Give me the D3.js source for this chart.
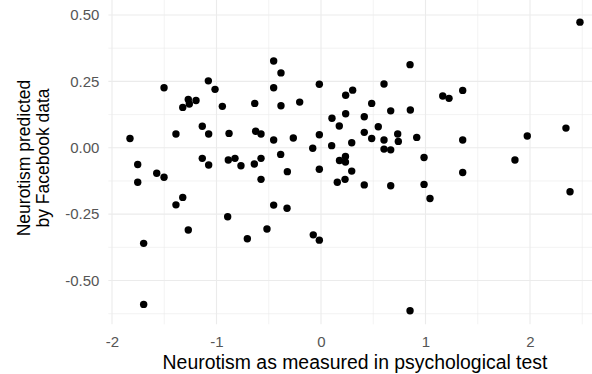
<!DOCTYPE html>
<html>
<head>
<meta charset="utf-8">
<script src="https://cdn.jsdelivr.net/npm/d3@7"></script>
<style>
body { margin:0; background:#fff; }
text { font-family: "Liberation Sans", Arial, Helvetica, sans-serif; }
</style>
</head>
<body>
<svg id="chart" width="592" height="374"></svg>
<script>
// neurotism from the psychological test (x)
var testScore = [
  -1.078, -1.014, -1.502, -1.270, -1.196, -1.260, -1.323, -0.944, -1.136, -1.075,
  -1.388, -1.828, -0.880, -1.136, -1.075, -1.754, -0.887, -1.572, -1.502, -1.754,
  -1.323, -1.388, -0.893, -1.270, -1.697, -1.697, -0.453, -0.383, -0.453, -0.016,
   0.303,  0.236, -0.634, -0.383, -0.204,  0.236,  0.105,  0.175, -0.625, -0.574,
  -0.453, -0.265, -0.016,  0.294,  0.102, -0.079, -0.386, -0.823, -0.766, -0.638,
  -0.574, -0.322, -0.016,  0.177,  0.234,  0.234,  0.294,  0.156,  0.230, -0.574,
  -0.453, -0.325, -0.517, -0.705, -0.074, -0.016,  0.852,  0.603,  1.165,  1.225,
   1.356,  0.485,  0.667,  0.855,  0.414,  0.548,  0.414,  0.485,  0.734,  0.603,
   0.740,  0.916,  0.603,  0.667,  1.356,  0.986,  0.414,  0.667,  0.986,  1.043,
   1.356,  0.852,  2.478,  2.344,  1.974,  1.856,  2.383
];
// neurotism predicted from Facebook data (y)
var fbPredicted = [
   0.252,  0.220,  0.226,  0.182,  0.178,  0.165,  0.152,  0.156,  0.081,  0.052,
   0.052,  0.035,  0.054, -0.040, -0.065, -0.063, -0.046, -0.096, -0.111, -0.130,
  -0.187, -0.215, -0.260, -0.310, -0.360, -0.590,  0.327,  0.282,  0.226,  0.239,
   0.217,  0.198,  0.167,  0.158,  0.172,  0.128,  0.111,  0.082,  0.062,  0.052,
   0.029,  0.037,  0.049,  0.019,  0.008, -0.002, -0.025, -0.040, -0.068, -0.061,
  -0.040, -0.090, -0.081, -0.048, -0.033, -0.054, -0.088, -0.130, -0.119, -0.119,
  -0.216, -0.228, -0.306, -0.343, -0.328, -0.348,  0.313,  0.240,  0.195,  0.186,
   0.216,  0.167,  0.139,  0.142,  0.117,  0.079,  0.058,  0.035,  0.052,  0.029,
   0.024,  0.039, -0.005, -0.008,  0.029, -0.037, -0.140, -0.143, -0.138, -0.191,
  -0.093, -0.614,  0.473,  0.074,  0.044, -0.046, -0.166
];
var xTicks = [-2, -1, 0, 1, 2];
var xMinor = [-1.5, -0.5, 0.5, 1.5, 2.5];
var yTicks = [-0.5, -0.25, 0, 0.25, 0.5];
var yMinor = [-0.625, -0.375, -0.125, 0.125, 0.375];

var svg = d3.select("#chart");

var x = d3.scaleLinear().domain([-2, 2]).range([112, 530]);
var y = d3.scaleLinear().domain([-0.5, 0.5]).range([280.5, 15]);

var left = x(-2.035), right = x(2.72), top = y(0.53), bottom = y(-0.665);

// plain hyphen for negatives, like ggplot
var hy = function(f){ return function(d){ return f(d).replace("\u2212", "-"); }; };

var grid = svg.append("g");
// minor lines first
grid.selectAll(".vminor").data(xMinor).enter().append("line")
    .attr("x1", function(d){ return x(d); }).attr("x2", function(d){ return x(d); })
    .attr("y1", top).attr("y2", bottom)
    .attr("stroke", "#ebebeb").attr("stroke-width", 0.6);
grid.selectAll(".hminor").data(yMinor).enter().append("line")
    .attr("y1", function(d){ return y(d); }).attr("y2", function(d){ return y(d); })
    .attr("x1", left).attr("x2", right)
    .attr("stroke", "#ebebeb").attr("stroke-width", 0.6);
grid.selectAll(".vmajor").data(xTicks).enter().append("line")
    .attr("x1", function(d){ return x(d); }).attr("x2", function(d){ return x(d); })
    .attr("y1", top).attr("y2", bottom)
    .attr("stroke", "#ebebeb").attr("stroke-width", 1.1);
grid.selectAll(".hmajor").data(yTicks).enter().append("line")
    .attr("y1", function(d){ return y(d); }).attr("y2", function(d){ return y(d); })
    .attr("x1", left).attr("x2", right)
    .attr("stroke", "#ebebeb").attr("stroke-width", 1.1);

// axes: labels only, ggplot minimal has no ticks or axis lines
var xAxis = svg.append("g").attr("transform", "translate(0," + (bottom + 8) + ")")
    .call(d3.axisBottom(x).tickValues(xTicks).tickSize(0).tickPadding(4).tickFormat(hy(d3.format("d"))));
var yAxis = svg.append("g").attr("transform", "translate(" + (left - 5) + ",0)")
    .call(d3.axisLeft(y).tickValues(yTicks).tickSize(0).tickPadding(4).tickFormat(hy(d3.format(".2f"))));
[xAxis, yAxis].forEach(function(a){
  a.select(".domain").remove();
  a.selectAll("text").attr("fill", "#555").style("font-size", "15px")
    .style("font-family", '"Liberation Sans", Arial, sans-serif');
});

svg.append("g").selectAll("circle")
    .data(testScore.map(function(v, i){ return [v, fbPredicted[i]]; }))
    .enter().append("circle")
    .attr("cx", function(d){ return x(d[0]); })
    .attr("cy", function(d){ return y(d[1]); })
    .attr("r", 3.7)
    .attr("fill", "#000");

svg.append("text")
    .attr("x", 355).attr("y", 369)
    .attr("text-anchor", "middle")
    .style("font-size", "19.4px")
    .text("Neurotism as measured in psychological test");

var yt = svg.append("text")
    .attr("transform", "translate(30,158) rotate(-90)")
    .attr("text-anchor", "middle")
    .style("font-size", "17.5px");
yt.append("tspan").attr("x", 0).attr("dy", 0).text("Neurotism predicted");
yt.append("tspan").attr("x", 0).attr("dy", "1.1em").text("by Facebook data");
</script>
</body>
</html>
